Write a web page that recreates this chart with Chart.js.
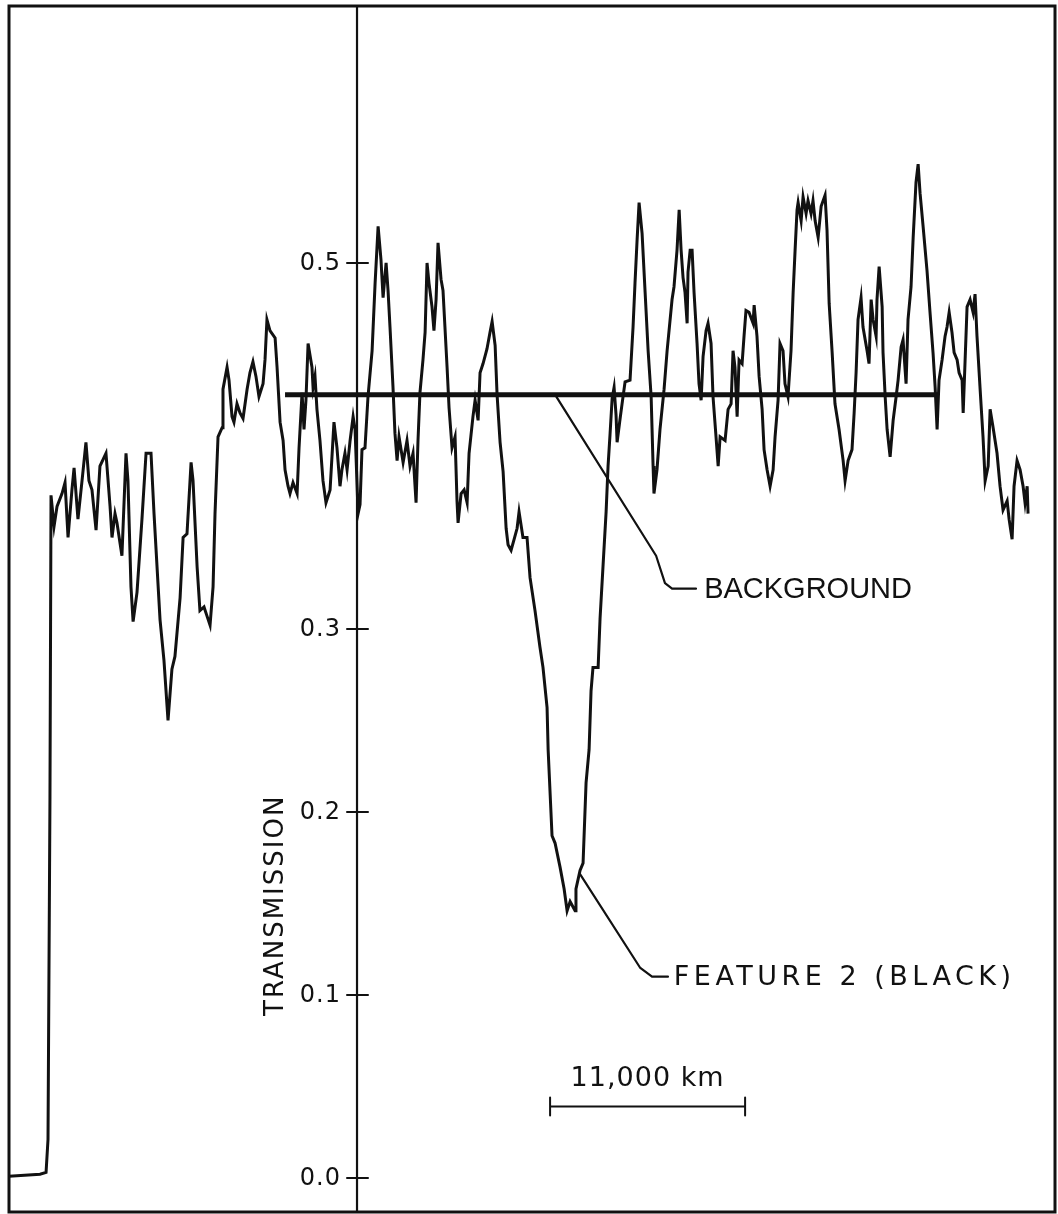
<!DOCTYPE html>
<html>
<head>
<meta charset="utf-8">
<script src="https://cdn.jsdelivr.net/npm/chart.js@4.4.0/dist/chart.umd.min.js"></script>
<style>
  body { margin: 0; background: #fff; }
  #wrap { width: 1058px; height: 1214px; }
</style>
</head>
<body>
<div id="wrap"><canvas id="chart" width="1058" height="1214"></canvas></div>
<script>
// distance along the scan, thousands of km
const distance = [
    0, 1.75, 2.09, 2.20, 2.31, 2.37, 2.54, 2.71, 2.99, 3.16,
    3.33, 3.55, 3.67, 3.89, 4.12, 4.34, 4.51, 4.68, 4.91, 5.13,
    5.47, 5.70, 5.81, 5.98, 6.09, 6.37, 6.60, 6.71, 6.88, 7.00,
    7.22, 7.50, 7.73, 8.01, 8.18, 8.52, 8.74, 8.97, 9.19, 9.36,
    9.65, 9.82, 10.04, 10.27, 10.38, 10.61, 10.77, 11.00, 11.17, 11.34,
    11.51, 11.62, 11.79, 12.02, 12.07, 12.30, 12.41, 12.58, 12.69, 12.86,
    13.03, 13.20, 13.43, 13.59, 13.76, 13.93, 14.10, 14.33, 14.44, 14.55,
    14.72, 15.01, 15.12, 15.29, 15.46, 15.57, 15.74, 15.85, 16.02, 16.25,
    16.36, 16.53, 16.64, 16.75, 16.87, 17.09, 17.15, 17.26, 17.37, 17.54,
    17.71, 17.88, 18.11, 18.33, 18.50, 18.67, 18.78, 18.95, 19.07, 19.24,
    19.41, 19.52, 19.69, 19.80, 19.91, 20.08, 20.25, 20.48, 20.65, 20.82,
    20.98, 21.10, 21.27, 21.38, 21.49, 21.66, 21.77, 21.89, 22.00, 22.23,
    22.45, 22.62, 22.79, 22.96, 23.07, 23.18, 23.35, 23.47, 23.58, 23.69,
    23.86, 23.97, 24.09, 24.20, 24.37, 24.48, 24.71, 24.82, 24.99, 25.16,
    25.27, 25.33, 25.50, 25.67, 25.84, 25.95, 26.17, 26.29, 26.46, 26.57,
    26.74, 26.96, 27.13, 27.25, 27.42, 27.53, 27.70, 27.87, 28.04, 28.15,
    28.32, 28.49, 28.66, 28.77, 28.99, 29.22, 29.39, 29.67, 29.95, 30.12,
    30.35, 30.41, 30.63, 30.80, 31.08, 31.31, 31.48, 31.65, 31.93, 31.98,
    32.21, 32.38, 32.55, 32.72, 32.83, 32.94, 33.23, 33.34, 33.51, 33.68,
    33.79, 33.90, 34.02, 34.13, 34.24, 34.30, 34.47, 34.58, 34.75, 35.03,
    35.20, 35.31, 35.43, 35.54, 35.71, 35.88, 36.05, 36.22, 36.33, 36.38,
    36.55, 36.72, 36.95, 37.12, 37.40, 37.51, 37.68, 37.80, 37.91, 38.02,
    38.13, 38.25, 38.30, 38.42, 38.53, 38.64, 38.81, 38.92, 39.04, 39.15,
    39.32, 39.43, 39.60, 39.71, 39.88, 40.00, 40.11, 40.39, 40.56, 40.73,
    40.84, 40.95, 41.07, 41.18, 41.35, 41.46, 41.57, 41.74, 41.97, 42.03,
    42.19, 42.31, 42.48, 42.59, 42.76, 42.93, 43.10, 43.21, 43.38, 43.49,
    43.66, 43.77, 43.94, 44.11, 44.23, 44.34, 44.45, 44.51, 44.68, 44.79,
    44.96, 45.07, 45.24, 45.35, 45.47, 45.64, 45.81, 46.03, 46.14, 46.26,
    46.43, 46.59, 46.82, 47.05, 47.16, 47.33, 47.55, 47.67, 47.78, 47.89,
    48.06, 48.17, 48.40, 48.51, 48.63, 48.74, 48.91, 48.96, 49.08, 49.25,
    49.30, 49.42, 49.53, 49.70, 49.87, 50.04, 50.15, 50.32, 50.43, 50.60,
    50.71, 50.88, 51.00, 51.16, 51.28, 51.39, 51.56, 51.78, 51.95, 52.12,
    52.24, 52.35, 52.46, 52.63, 52.80, 52.91, 53.03, 53.19, 53.31, 53.48,
    53.59, 53.76, 53.82, 53.93, 54.04, 54.21, 54.38, 54.49, 54.60, 54.77,
    54.94, 55.06, 55.23, 55.34, 55.51, 55.62, 55.73, 55.90, 56.07, 56.30,
    56.41, 56.58, 56.69, 56.86, 57.03, 57.20, 57.31, 57.43, 57.48
]

const transmission = [
    0.001, 0.002, 0.003, 0.021, 0.207, 0.373, 0.356, 0.367, 0.374, 0.380,
    0.350, 0.376, 0.388, 0.360, 0.381, 0.402, 0.381, 0.376, 0.354, 0.389,
    0.396, 0.367, 0.350, 0.363, 0.358, 0.340, 0.396, 0.381, 0.323, 0.304,
    0.320, 0.360, 0.396, 0.396, 0.363, 0.305, 0.283, 0.250, 0.278, 0.285,
    0.317, 0.350, 0.352, 0.391, 0.381, 0.334, 0.310, 0.312, 0.307, 0.302,
    0.323, 0.363, 0.405, 0.410, 0.431, 0.443, 0.436, 0.416, 0.413, 0.423,
    0.418, 0.415, 0.431, 0.440, 0.446, 0.438, 0.427, 0.434, 0.447, 0.469,
    0.463, 0.459, 0.443, 0.413, 0.403, 0.387, 0.378, 0.374, 0.380, 0.374,
    0.399, 0.429, 0.409, 0.425, 0.456, 0.443, 0.432, 0.438, 0.420, 0.403,
    0.381, 0.369, 0.376, 0.413, 0.399, 0.378, 0.387, 0.396, 0.387, 0.403,
    0.416, 0.409, 0.363, 0.368, 0.398, 0.399, 0.427, 0.452, 0.489, 0.520,
    0.502, 0.481, 0.500, 0.485, 0.465, 0.432, 0.407, 0.392, 0.405, 0.391,
    0.403, 0.389, 0.396, 0.369, 0.403, 0.429, 0.447, 0.462, 0.500, 0.489,
    0.476, 0.463, 0.480, 0.511, 0.491, 0.485, 0.443, 0.421, 0.399, 0.405,
    0.370, 0.358, 0.374, 0.376, 0.369, 0.396, 0.416, 0.425, 0.414, 0.440,
    0.445, 0.453, 0.462, 0.468, 0.455, 0.428, 0.402, 0.386, 0.355, 0.346,
    0.343, 0.349, 0.355, 0.364, 0.350, 0.350, 0.328, 0.310, 0.290, 0.279,
    0.257, 0.234, 0.187, 0.183, 0.170, 0.158, 0.146, 0.151, 0.146, 0.158,
    0.168, 0.172, 0.216, 0.234, 0.266, 0.279, 0.279, 0.306, 0.335, 0.364,
    0.389, 0.406, 0.426, 0.432, 0.417, 0.402, 0.415, 0.423, 0.435, 0.436,
    0.465, 0.489, 0.513, 0.533, 0.516, 0.484, 0.452, 0.427, 0.389, 0.374,
    0.387, 0.409, 0.431, 0.452, 0.480, 0.487, 0.507, 0.529, 0.507, 0.492,
    0.484, 0.467, 0.495, 0.507, 0.507, 0.484, 0.456, 0.434, 0.425, 0.449,
    0.463, 0.467, 0.456, 0.427, 0.405, 0.389, 0.405, 0.403, 0.420, 0.423,
    0.452, 0.443, 0.416, 0.447, 0.445, 0.460, 0.474, 0.473, 0.467, 0.477,
    0.460, 0.438, 0.420, 0.398, 0.387, 0.378, 0.387, 0.405, 0.425, 0.456,
    0.452, 0.434, 0.427, 0.452, 0.484, 0.507, 0.529, 0.533, 0.523, 0.536,
    0.527, 0.534, 0.527, 0.534, 0.523, 0.514, 0.531, 0.537, 0.518, 0.478,
    0.451, 0.423, 0.409, 0.392, 0.381, 0.392, 0.398, 0.418, 0.440, 0.469,
    0.481, 0.465, 0.452, 0.445, 0.480, 0.469, 0.460, 0.480, 0.498, 0.476,
    0.451, 0.427, 0.409, 0.394, 0.414, 0.427, 0.436, 0.454, 0.458, 0.434,
    0.469, 0.487, 0.514, 0.544, 0.554, 0.538, 0.520, 0.496, 0.473, 0.451,
    0.432, 0.409, 0.436, 0.447, 0.460, 0.465, 0.473, 0.462, 0.451, 0.447,
    0.440, 0.436, 0.418, 0.447, 0.476, 0.480, 0.473, 0.483, 0.460, 0.432,
    0.405, 0.381, 0.389, 0.420, 0.410, 0.403, 0.396, 0.378, 0.365, 0.370,
    0.360, 0.349, 0.378, 0.392, 0.387, 0.378, 0.369, 0.378, 0.363
]

// background level drawn across the disturbed region
const backgroundLevel = 0.428
const backgroundStart = 15.57
const backgroundEnd = 52.41

const yTicks = [0.0, 0.1, 0.2, 0.3, 0.5]
const yAxisAt = 19.63          // where the transmission axis crosses, thousand km
const scaleBar = [30.52, 41.52] // 11,000 km

const xRange = [0, 59.0]
const yRange = [-0.0186, 0.6404]

const curvePoints = distance.map((d, i) => ({ x: d, y: transmission[i] }))
const backgroundPoints = [
    { x: backgroundStart, y: backgroundLevel },
    { x: backgroundEnd, y: backgroundLevel }
]

// label leaders, in data units
const bgLeader = [[30.80, 0.428], [36.50, 0.340], [37.00, 0.325], [37.40, 0.322], [38.75, 0.322]]
const bgLabel = { x: 39.21, y: 0.322, text: 'BACKGROUND' }
const ftLeader = [[32.21, 0.166], [35.59, 0.115], [36.27, 0.110], [37.17, 0.110]]
const ftLabel = { x: 37.50, y: 0.110, text: 'FEATURE 2 (BLACK)' }

const ink = '#111'

const decorPlugin = {
    id: 'decor',
    afterDatasetsDraw(chart) {
        const ctx = chart.ctx
        const xs = chart.scales.x
        const ys = chart.scales.y
        const area = chart.chartArea
        const px = v => xs.getPixelForValue(v)
        const py = v => ys.getPixelForValue(v)

        ctx.save()
        ctx.strokeStyle = ink
        ctx.fillStyle = ink
        ctx.lineCap = 'round'

        // frame
        ctx.lineWidth = 3
        ctx.strokeRect(area.left, area.top, area.right - area.left, area.bottom - area.top)

        // vertical axis
        const ax = px(yAxisAt)
        ctx.lineWidth = 2.2
        ctx.beginPath()
        ctx.moveTo(ax, area.top)
        ctx.lineTo(ax, area.bottom)
        ctx.stroke()

        ctx.font = '24px "DejaVu Sans"'
        ctx.letterSpacing = '1px'
        ctx.textAlign = 'right'
        ctx.textBaseline = 'middle'
        for (const t of yTicks) {
            const y = py(t)
            ctx.lineWidth = 2
            ctx.beginPath()
            ctx.moveTo(ax - 10, y)
            ctx.lineTo(ax + 11, y)
            ctx.stroke()
            ctx.fillText(t.toFixed(1), ax - 16, y + 1)
        }

        // axis title
        ctx.save()
        ctx.translate(ax - 81, py(0.149))
        ctx.rotate(-Math.PI / 2)
        ctx.textAlign = 'center'
        ctx.font = '26px "DejaVu Sans"'
        ctx.letterSpacing = '2px'
        ctx.fillText('TRANSMISSION', 0, 0)
        ctx.restore()

        // leaders
        ctx.lineWidth = 2.2
        ctx.lineJoin = 'round'
        for (const leader of [bgLeader, ftLeader]) {
            ctx.beginPath()
            leader.forEach((p, i) => {
                if (i == 0) ctx.moveTo(px(p[0]), py(p[1]))
                else ctx.lineTo(px(p[0]), py(p[1]))
            })
            ctx.stroke()
        }

        ctx.textAlign = 'left'
        ctx.letterSpacing = '0px'
        ctx.font = '29px "Liberation Sans"'
        ctx.fillText(bgLabel.text, px(bgLabel.x), py(bgLabel.y) + 1)
        ctx.font = '27px "DejaVu Sans"'
        ctx.letterSpacing = '4.5px'
        ctx.fillText(ftLabel.text, px(ftLabel.x), py(ftLabel.y) + 1)

        // scale bar
        const sx0 = px(scaleBar[0])
        const sx1 = px(scaleBar[1])
        const sy = py(0.039)
        ctx.lineWidth = 2
        ctx.beginPath()
        ctx.moveTo(sx0, sy)
        ctx.lineTo(sx1, sy)
        ctx.moveTo(sx0, sy - 9)
        ctx.lineTo(sx0, sy + 9)
        ctx.moveTo(sx1, sy - 9)
        ctx.lineTo(sx1, sy + 9)
        ctx.stroke()
        ctx.textAlign = 'center'
        ctx.font = '27px "DejaVu Sans"'
        ctx.letterSpacing = '1px'
        ctx.fillText('11,000 km', (sx0 + sx1) / 2, py(0.054))

        ctx.restore()
    }
}

const config = {
    type: 'line',
    data: {
        datasets: [{
            label: 'Transmission',
            data: curvePoints,
            borderColor: ink,
            borderWidth: 3,
            pointRadius: 0,
            tension: 0,
            fill: false
        }, {
            label: 'Background',
            data: backgroundPoints,
            borderColor: ink,
            borderWidth: 5,
            pointRadius: 0,
            fill: false
        }]
    },
    options: {
        responsive: false,
        animation: false,
        layout: { padding: { left: 9, right: 3, top: 6, bottom: 2 } },
        scales: {
            x: { type: 'linear', display: false, min: xRange[0], max: xRange[1] },
            y: { type: 'linear', display: false, min: yRange[0], max: yRange[1] }
        },
        plugins: {
            legend: { display: false },
            tooltip: { enabled: false }
        }
    },
    plugins: [decorPlugin]
}

const chart = new Chart(document.getElementById('chart'), config)
</script>
</body>
</html>
